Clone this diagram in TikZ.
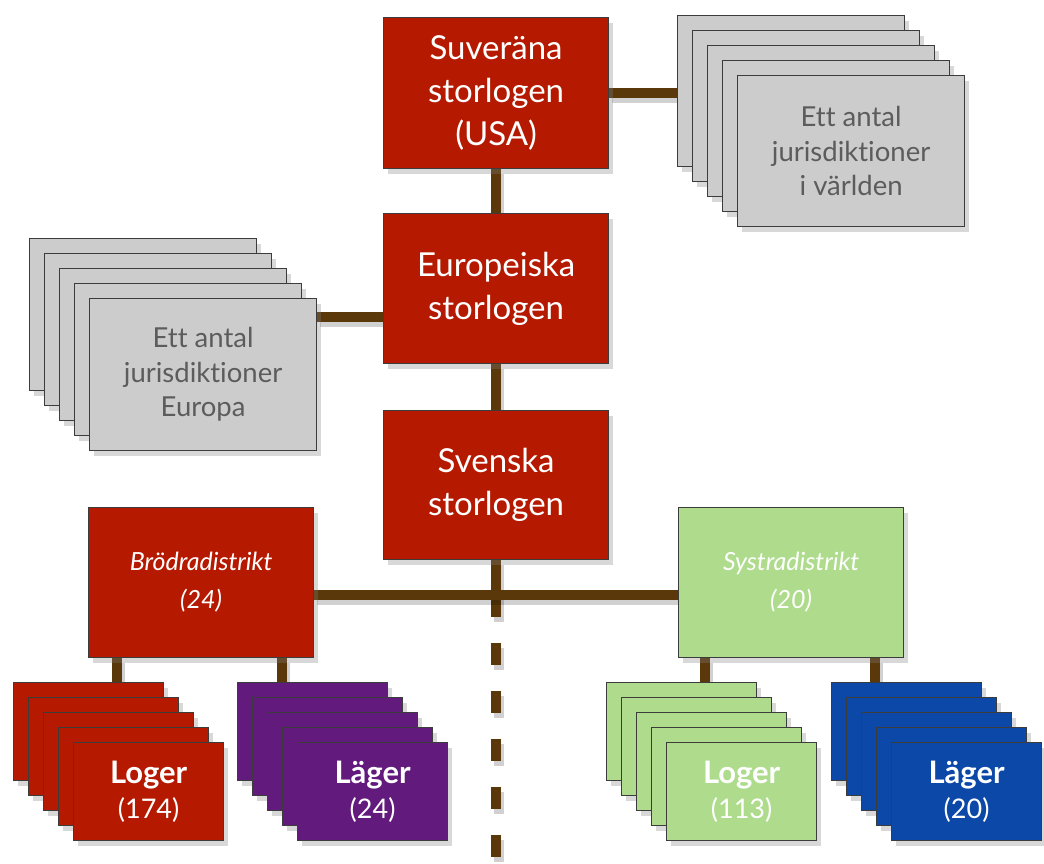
\documentclass[tikz,border=0pt]{standalone}
\usepackage{fontspec}
\setmainfont{Lato}[Ligatures=NoCommon]
\usetikzlibrary{shadows}
\pgfdeclarelayer{background}
\pgfdeclarelayer{paper}
\pgfsetlayers{paper,background,main}
\definecolor{redbox}{RGB}{181,26,0}
\definecolor{graybox}{RGB}{204,204,204}
\definecolor{greenbox}{RGB}{174,220,140}
\definecolor{purplebox}{RGB}{98,26,125}
\definecolor{bluebox}{RGB}{12,72,168}
\definecolor{connc}{RGB}{90,56,10}
\definecolor{graytext}{RGB}{92,92,92}
\definecolor{edgec}{RGB}{60,60,60}
\newcommand\myconn[2][]{\draw[cshadow,#1] #2; \draw[connline,#1] #2;}
\begin{document}
\begin{tikzpicture}[x=1pt,y=-1pt,
  box/.style={draw=edgec, line width=1.2pt, anchor=north west, inner sep=0pt, align=center,
    drop shadow={opacity=0.3, shadow xshift=4pt, shadow yshift=-5pt}},
  bigbox/.style={box, fill=redbox, minimum width=225pt, minimum height=151pt, text=white,
    font=\fontsize{33}{43}\selectfont},
  graycard/.style={box, fill=graybox, minimum width=227pt, minimum height=151pt, text=graytext,
    font=\fontsize{27.5}{34.5}\selectfont},
  distbox/.style={box, minimum width=225pt, minimum height=150pt, text=white,
    font=\fontsize{25}{38}\selectfont\itshape},
  smallcard/.style={box, minimum width=150pt, minimum height=98pt, text=white,
    font=\fontsize{27}{35}\selectfont},
  connline/.style={draw=connc, line width=10pt},
  cshadow/.style={draw=black, opacity=0.18, line width=10pt, transform canvas={xshift=3pt,yshift=-5pt}}
]
\begin{pgfonlayer}{paper}
\fill[white] (0,0) rectangle (1044,864);
\end{pgfonlayer}
\useasboundingbox (0,0) rectangle (1044,864);

% main boxes
\path (383,17) node[bigbox] (usa) {Suveräna\\storlogen\\(USA)};
\path (383,213) node[bigbox, minimum height=150pt] (euro) {Europeiska\\storlogen};
\path (383,410) node[bigbox, minimum height=149pt] (sve) {Svenska\\storlogen};
\path (88,507) node[distbox, fill=redbox] (brod) {Brödradistrikt\\(24)};
\path (678,507) node[distbox, fill=greenbox] (syst) {Systradistrikt\\(20)};

% world stack
\foreach \i in {0,...,3} \path ({677+15*\i},{15+15*\i}) node[graycard] (wg\i) {};
\path (737,75) node[graycard] (wg4) {Ett antal\\jurisdiktioner\\i världen};

% europe stack
\foreach \i in {0,...,3} \path ({29+15*\i},{238+15*\i}) node[graycard, minimum height=152pt] (eg\i) {};
\path (89,298) node[graycard, minimum height=152pt] (eg4) {Ett antal\\jurisdiktioner\\Europa};

% red loger stack
\foreach \i in {0,...,3} \path ({13+15*\i},{682+15*\i}) node[smallcard, fill=redbox] (rl\i) {};
\path (73,742) node[smallcard, fill=redbox] (rl4) {{\bfseries\fontsize{31}{35}\selectfont Loger}\\(174)};

% purple lager stack
\foreach \i in {0,...,3} \path ({237+15*\i},{682+15*\i}) node[smallcard, fill=purplebox] (pl\i) {};
\path (297,742) node[smallcard, fill=purplebox] (pl4) {{\bfseries\fontsize{31}{35}\selectfont Läger}\\(24)};

% green loger stack
\foreach \i in {0,...,3} \path ({606+15*\i},{682+15*\i}) node[smallcard, fill=greenbox] (gl\i) {};
\path (666,742) node[smallcard, fill=greenbox] (gl4) {{\bfseries\fontsize{31}{35}\selectfont Loger}\\(113)};

% blue lager stack
\foreach \i in {0,...,3} \path ({831+15*\i},{682+15*\i}) node[smallcard, fill=bluebox] (bl\i) {};
\path (891,742) node[smallcard, fill=bluebox] (bl4) {{\bfseries\fontsize{31}{35}\selectfont Läger}\\(20)};

% connector coordinates
\coordinate (ej) at (euro.west |- 0,317);
\coordinate (hl) at (brod.east |- 0,595);
\coordinate (hr) at (syst.west |- 0,595);
\coordinate (ssolid) at (sve.south |- 0,617);
\coordinate (sdash) at (sve.south |- 0,643);
\coordinate (sbot) at (sve.south |- 0,870);
\coordinate (rla) at (brod.south -| 117,0);
\coordinate (pla) at (brod.south -| 282,0);
\coordinate (gla) at (syst.south -| 705,0);
\coordinate (bla) at (syst.south -| 875,0);

\begin{pgfonlayer}{background}
\myconn{(usa.south) -- (euro.north)}
\myconn{(euro.south) -- (sve.north)}
\myconn{(sve.south) -- (ssolid)}
\myconn[dash pattern=on 22pt off 26pt]{(sdash) -- (sbot)}
\myconn{(hl) -- (hr)}
\myconn{(usa.east) -- (usa.east -| wg0.west)}
\myconn{(ej -| eg4.east) -- (ej)}
\myconn{(rla) -- (rla |- rl0.north)}
\myconn{(pla) -- (pla |- pl0.north)}
\myconn{(gla) -- (gla |- gl0.north)}
\myconn{(bla) -- (bla |- bl0.north)}
\end{pgfonlayer}
\end{tikzpicture}
\end{document}
